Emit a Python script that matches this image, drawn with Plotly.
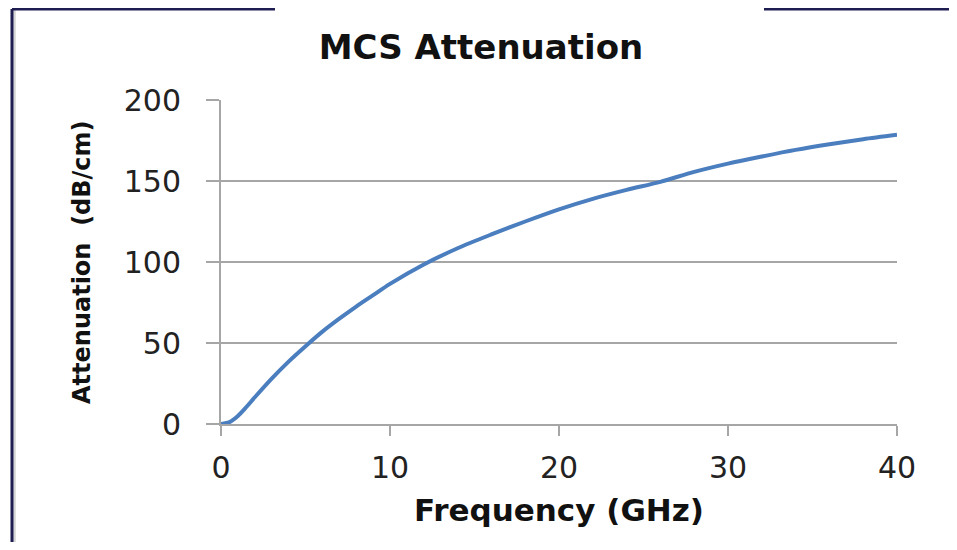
import plotly.graph_objects as go

# Data
frequency_ghz = [0, 0.5, 1, 1.5, 2, 3, 4, 5, 6, 7, 8, 9, 10, 12, 14, 16, 18,
                 20, 22, 24, 26, 28, 30, 32, 34, 36, 38, 40]
attenuation_db_cm = [0, 1.2, 5, 10.5, 16.5, 28, 38.5, 48, 57, 65, 72.5, 79.5,
                     86.5, 98.5, 108.5, 117, 125, 132.5, 139, 144.5, 149.5,
                     155.6, 160.7, 165.1, 169.2, 172.7, 175.8, 178.5]

x_ticks = [0, 10, 20, 30, 40]
y_ticks = [0, 50, 100, 150, 200]

OFF = 8  # page body margin in the browser
W, H = 957 - OFF, 550 - 2 * OFF
PLOT_L, PLOT_R, PLOT_T, PLOT_B = 221, 897, 100, 424  # on-screen plot area
ML = PLOT_L - OFF
MT = PLOT_T - OFF
PW = PLOT_R - PLOT_L
PH = PLOT_B - PLOT_T
MR = W - ML - PW
MB = H - MT - PH


def px(xp):
    return (xp - PLOT_L) / PW


def py(yp):
    return (PLOT_B - yp) / PH


fig = go.Figure()
fig.add_trace(go.Scatter(
    x=frequency_ghz, y=attenuation_db_cm, mode="lines",
    line=dict(color="#4A7EBF", width=4, shape="spline", smoothing=0.8),
    showlegend=False, hoverinfo="x+y",
))

grid_col = "#A6A6A6"
frame_col = "#1E1E52"
shapes = [dict(type="line", xref="paper", yref="paper",
               x0=px(14.5), y0=py(10), x1=px(14.5), y1=py(560),
               line=dict(color="#D4D4D4", width=2.5))]
for (x0, y0, x1, y1) in [(12, 9, 275, 9), (764, 9, 953, 9),
                         (12, 9, 12, 560), (953, 9, 953, 560)]:
    shapes.append(dict(type="line", xref="paper", yref="paper",
                       x0=px(x0), y0=py(y0), x1=px(x1), y1=py(y1),
                       line=dict(color=frame_col, width=3)))

fig.update_layout(
    width=W, height=H,
    margin=dict(l=ML, r=MR, t=MT, b=MB),
    paper_bgcolor="white", plot_bgcolor="white",
    title=dict(text="<b>MCS Attenuation</b>", x=(481 - OFF) / W, xanchor="center",
               y=1 - (47 - OFF) / H, yanchor="middle",
               font=dict(family="DejaVu Sans", size=34, color="#111111")),
    xaxis=dict(range=[0, 40], tickvals=x_ticks, ticktext=[str(v) for v in x_ticks],
               showgrid=False, zeroline=False, showline=True,
               linecolor=grid_col, linewidth=2,
               ticks="outside", ticklen=10, tickwidth=2, tickcolor=grid_col,
               ticklabelstandoff=6,
               tickfont=dict(family="DejaVu Sans", size=30, color="#222222"),
               title=dict(text="<b>Frequency (GHz)</b>", standoff=15,
                          font=dict(family="DejaVu Sans", size=31, color="#111111"))),
    yaxis=dict(range=[0, 200], tickvals=y_ticks, ticktext=[str(v) for v in y_ticks],
               showgrid=True, gridcolor=grid_col, gridwidth=2,
               zeroline=False, showline=True,
               linecolor=grid_col, linewidth=2,
               ticks="outside", ticklen=13, tickwidth=2, tickcolor=grid_col,
               ticklabelstandoff=19,
               tickfont=dict(family="DejaVu Sans", size=30, color="#222222")),
    annotations=[dict(text="<b>Attenuation  (dB/cm)</b>", textangle=-90,
                      xref="paper", yref="paper", x=px(82), y=py(262),
                      xanchor="center", yanchor="middle", showarrow=False,
                      font=dict(family="DejaVu Sans", size=24, color="#111111"))],
    shapes=shapes,
)

fig.write_html("out.html")
